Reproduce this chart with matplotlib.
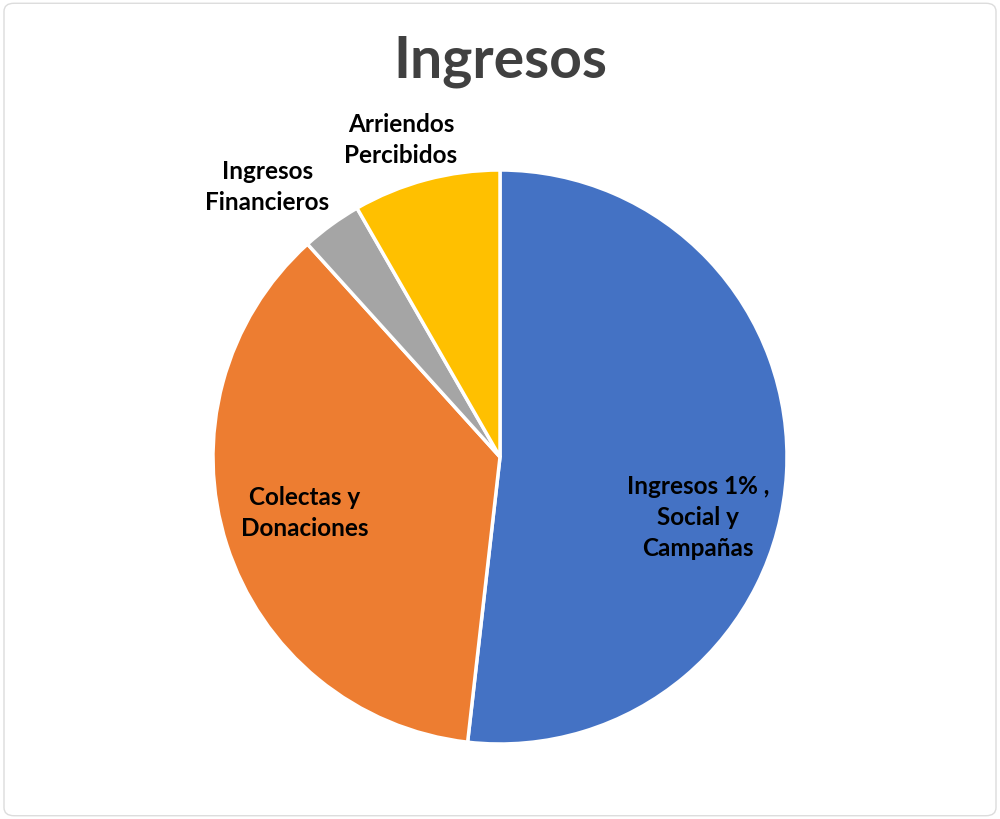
import matplotlib
matplotlib.use("Agg")
import matplotlib.pyplot as plt
from matplotlib.patches import FancyBboxPatch

# slices in clockwise order from 12 o'clock
categories = ["Ingresos 1% ,\nSocial y\nCampañas", "Colectas y\nDonaciones",
              "Ingresos\nFinancieros", "Arriendos\nPercibidos"]
shares = [51.8, 36.5, 3.4, 8.3]
colors = ["#4472C4", "#ED7D31", "#A5A5A5", "#FFC000"]
# label anchor points in pie units (radius = 1)
label_x = [0.69, -0.68, -0.81, -0.345]
label_y = [-0.21, -0.195, 0.94, 1.105]

plt.rcParams["font.family"] = ["Lato", "DejaVu Sans"]

fig = plt.figure(figsize=(10, 8.19), dpi=100)
fig.patches.append(FancyBboxPatch((0.004, 0.004), 0.992, 0.992,
                                  boxstyle="round,pad=0,rounding_size=0.01",
                                  transform=fig.transFigure, fill=False,
                                  edgecolor="#dcdcdc", linewidth=1.0))

ax = fig.add_axes([0.213, 0.0915, 0.574, 0.701])
ax.pie(shares, colors=colors, startangle=90, counterclock=False,
       wedgeprops=dict(edgecolor="white", linewidth=2.5))
ax.set_xlim(-1, 1)
ax.set_ylim(-1, 1)
ax.set_aspect("equal")

for lbl, x, y in zip(categories, label_x, label_y):
    ax.text(x, y, lbl, ha="center", va="center", fontsize=17.5,
            fontweight="bold", color="black", linespacing=1.42)

fig.text(0.5, 0.925, "Ingresos", ha="center", va="center", fontsize=41,
         fontweight="bold", color="#404040")

fig.savefig("out.png", dpi=100)
